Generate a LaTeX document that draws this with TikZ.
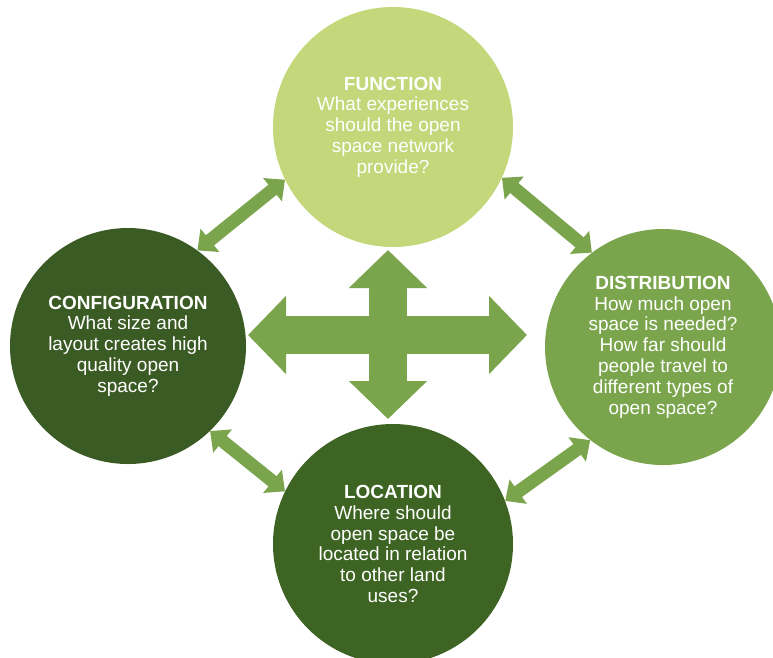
\documentclass[tikz,border=0pt]{standalone}
\usepackage{fontspec}
\setmainfont{Liberation Sans}
\usepackage{xcolor}
\usetikzlibrary{arrows.meta}

\definecolor{paleleaf}{HTML}{C4D77B}
\definecolor{midleaf}{HTML}{7AA54C}
\definecolor{darkleaf}{HTML}{3B5B24}
\definecolor{deepleaf}{HTML}{3D6423}

\begin{document}
\begin{tikzpicture}[x=1pt, y=-1pt,
    theme/.style={circle, inner sep=0pt, align=center, text=white,
                  font=\fontsize{19}{20.8}\selectfont},
    link/.style={{Triangle[length=16pt, width=29pt]}-{Triangle[length=16pt, width=29pt]},
                 line width=13pt, draw=midleaf},
    hub/.style={{Triangle[length=38pt, width=76pt]}-{Triangle[length=38pt, width=76pt]},
                line width=38pt, draw=midleaf}
  ]
  \useasboundingbox (0,0) rectangle (773,657);

  \node[theme, fill=paleleaf, minimum size=240pt] (fun) at (393,127)
    {\textbf{FUNCTION}\\What experiences\\should the open\\space network\\provide?};
  \node[theme, fill=darkleaf, minimum size=236pt] (cfg) at (128,346)
    {\textbf{CONFIGURATION}\\What size and\\layout creates high\\quality open\\space?};
  \node[theme, fill=midleaf, minimum size=236pt] (dist) at (663,347)
    {\textbf{DISTRIBUTION}\\How much open\\space is needed?\\How far should\\people travel to\\different types of\\open space?};
  \node[theme, fill=deepleaf, minimum size=240pt] (loc) at (393,544)
    {\textbf{LOCATION}\\Where should\\open space be\\located in relation\\to other land\\uses?};

  % central cross
  \coordinate (hubN) at (388,250);
  \coordinate (hubS) at (388,419);
  \coordinate (hubW) at (248,335);
  \coordinate (hubE) at (527,335);
  \draw[hub] (hubW) -- (hubE);
  \draw[hub] (hubN) -- (hubS);

  % links round the ring
  \draw[link] (cfg.54) -- (fun.206);
  \draw[link] (fun.335) -- (dist.127);
  \draw[link] (cfg.314) -- (loc.154);
  \draw[link] (loc.21) -- (dist.232);
\end{tikzpicture}
\end{document}
